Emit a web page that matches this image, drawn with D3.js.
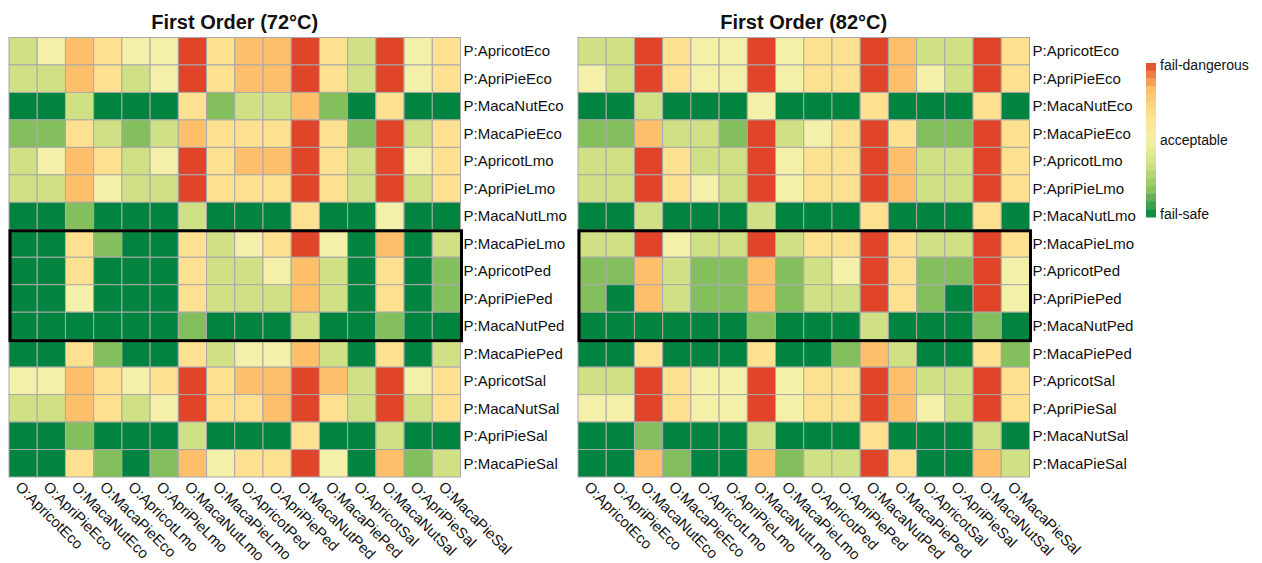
<!DOCTYPE html>
<html>
<head>
<meta charset="utf-8">
<script src="https://cdn.jsdelivr.net/npm/d3@7"></script>
<style>
  html, body { margin: 0; padding: 0; background: #fff; }
  svg { display: block; font-family: "Liberation Sans", Arial, sans-serif; }
</style>
</head>
<body>
<svg id="chart" width="1262" height="563"></svg>
<script>
// Risk level per pair: 1 = fail-safe ... 4 = acceptable ... 7 = fail-dangerous
const cols72 = ["O:ApricotEco","O:ApriPieEco","O:MacaNutEco","O:MacaPieEco","O:ApricotLmo","O:ApriPieLmo","O:MacaNutLmo","O:MacaPieLmo","O:ApricotPed","O:ApriPiePed","O:MacaNutPed","O:MacaPiePed","O:ApricotSal","O:MacaNutSal","O:ApriPieSal","O:MacaPieSal"];
const rows72 = ["P:ApricotEco","P:ApriPieEco","P:MacaNutEco","P:MacaPieEco","P:ApricotLmo","P:ApriPieLmo","P:MacaNutLmo","P:MacaPieLmo","P:ApricotPed","P:ApriPiePed","P:MacaNutPed","P:MacaPiePed","P:ApricotSal","P:MacaNutSal","P:ApriPieSal","P:MacaPieSal"];
const cols82 = ["O:ApricotEco","O:ApriPieEco","O:MacaNutEco","O:MacaPieEco","O:ApricotLmo","O:ApriPieLmo","O:MacaNutLmo","O:MacaPieLmo","O:ApricotPed","O:ApriPiePed","O:MacaNutPed","O:MacaPiePed","O:ApricotSal","O:ApriPieSal","O:MacaNutSal","O:MacaPieSal"];
const rows82 = ["P:ApricotEco","P:ApriPieEco","P:MacaNutEco","P:MacaPieEco","P:ApricotLmo","P:ApriPieLmo","P:MacaNutLmo","P:MacaPieLmo","P:ApricotPed","P:ApriPiePed","P:MacaNutPed","P:MacaPiePed","P:ApricotSal","P:ApriPieSal","P:MacaNutSal","P:MacaPieSal"];

const risk72 = [
  [3,4,6,5,4,4,7,5,6,6,7,5,3,7,4,5],
  [3,3,6,5,3,4,7,5,6,6,7,5,3,7,4,5],
  [1,1,3,1,1,1,5,2,3,3,6,2,1,5,1,1],
  [2,2,5,3,2,3,6,5,5,5,7,5,2,7,3,5],
  [3,4,6,5,3,4,7,5,6,6,7,5,3,7,4,5],
  [3,3,6,4,3,3,7,5,5,5,7,5,3,7,3,5],
  [1,1,2,1,1,1,3,1,1,1,5,1,1,4,1,1],
  [1,1,5,2,1,1,5,3,4,5,7,4,1,6,1,3],
  [1,1,5,1,1,1,5,3,3,4,6,3,1,5,1,2],
  [1,1,4,1,1,1,5,3,3,3,6,3,1,5,1,2],
  [1,1,1,1,1,1,2,1,1,1,3,1,1,2,1,1],
  [1,1,5,2,1,1,5,3,4,4,6,3,1,5,1,3],
  [4,4,6,5,4,5,7,5,6,6,7,6,3,7,4,5],
  [3,3,6,5,3,4,7,5,5,6,7,5,3,7,3,5],
  [1,1,2,1,1,1,3,1,1,1,5,1,1,3,1,1],
  [1,1,5,2,1,2,6,4,5,5,7,4,1,6,2,3]
];

const risk82 = [
  [3,3,7,5,4,4,7,4,5,5,7,6,3,3,7,5],
  [4,3,7,5,4,4,7,4,5,5,7,6,4,3,7,5],
  [1,1,3,1,1,1,4,1,1,1,5,1,1,1,5,1],
  [2,2,6,3,3,2,7,3,4,5,7,5,2,2,7,5],
  [3,3,7,5,3,3,7,4,5,5,7,6,3,3,7,5],
  [3,3,7,5,4,3,7,4,5,5,7,6,3,3,7,5],
  [1,1,3,1,1,1,3,1,1,1,5,1,1,1,5,1],
  [3,3,7,4,3,3,7,3,5,5,7,5,3,3,7,5],
  [2,2,6,3,2,2,6,2,3,4,7,5,2,2,7,4],
  [2,1,6,3,2,2,6,2,3,3,7,5,2,1,7,4],
  [1,1,1,1,1,1,2,1,1,1,3,1,1,1,2,1],
  [1,1,5,1,1,1,5,1,1,2,6,3,1,1,5,2],
  [3,3,7,5,4,4,7,4,5,5,7,6,3,3,7,5],
  [4,4,7,5,4,4,7,4,5,5,7,6,4,3,7,5],
  [1,1,2,1,1,1,3,1,1,1,5,1,1,1,3,1],
  [1,1,6,2,1,1,6,2,3,3,7,5,1,1,6,3]
];

// Rows framed as the group of interest (MacaPieLmo .. MacaNutPed)
const highlightRows = ["P:MacaPieLmo","P:MacaNutPed"];
const legendLabels = ["fail-dangerous","acceptable","fail-safe"];

const palette = ["#00843f","#84bf5e","#d0e084","#f4f0aa","#fee190","#fdbf6a","#e0452a"];
const color = d3.scaleLinear().domain([1,2,3,4,5,6,7]).range(palette).interpolate(d3.interpolateRgb);

const svg = d3.select("#chart");

function heatmap(opts) {
  const {x0, x1, y0, y1, title, rows, cols, data} = opts;
  const g = svg.append("g");
  const x = d3.scaleBand().domain(cols).range([x0, x1]);
  const y = d3.scaleBand().domain(rows).range([y0, y1]);

  const cells = [];
  data.forEach((r, i) => r.forEach((v, j) => cells.push({row: rows[i], col: cols[j], v})));

  g.selectAll("rect.cell").data(cells).join("rect")
    .attr("class", "cell")
    .attr("x", d => x(d.col)).attr("y", d => y(d.row))
    .attr("width", x.bandwidth()).attr("height", y.bandwidth())
    .attr("fill", d => color(d.v))
    .attr("stroke", "#a9a9a9").attr("stroke-width", 1);

  g.append("text")
    .attr("x", (x0 + x1) / 2).attr("y", 29)
    .attr("text-anchor", "middle")
    .attr("font-size", 20).attr("font-weight", "bold")
    .attr("fill", "#111")
    .text(title);

  // row labels on the right
  g.selectAll("text.row").data(rows).join("text")
    .attr("class", "row")
    .attr("x", x1 + 3).attr("y", d => y(d) + y.bandwidth() / 2)
    .attr("dy", "0.35em")
    .attr("font-size", 15).attr("fill", "#111")
    .text(d => d);

  // column labels rotated below
  g.selectAll("text.col").data(cols).join("text")
    .attr("class", "col")
    .attr("transform", d => `translate(${x(d) + x.bandwidth() / 2 - 5},${y1 + 7}) rotate(45)`)
    .attr("dy", "0.35em")
    .attr("font-size", 15).attr("fill", "#111")
    .text(d => d);

  // frame around the highlighted rows
  const hy0 = y(highlightRows[0]);
  const hy1 = y(highlightRows[1]) + y.bandwidth();
  g.append("rect")
    .attr("x", x0 + 1).attr("y", hy0 + 1)
    .attr("width", x1 - x0).attr("height", hy1 - hy0)
    .attr("fill", "none").attr("stroke", "#000").attr("stroke-width", 3);
}

heatmap({x0: 9, x1: 460.5, y0: 37.5, y1: 477, title: "First Order (72°C)", rows: rows72, cols: cols72, data: risk72});
heatmap({x0: 578, x1: 1029.5, y0: 37.5, y1: 477, title: "First Order (82°C)", rows: rows82, cols: cols82, data: risk82});

// stepped colour legend
const ly = d3.scaleLinear().domain([7, 1]).range([63, 217]);
const nSteps = 20;
const steps = d3.range(nSteps).map(i => 7 - (i + 0.5) * 6 / nSteps);
const stepH = (ly(1) - ly(7)) / nSteps;
const lg = svg.append("g");
lg.selectAll("rect").data(steps).join("rect")
  .attr("x", 1146).attr("width", 10)
  .attr("y", (d, i) => ly(7) + i * stepH).attr("height", stepH + 0.5)
  .attr("fill", d => color(d));
lg.selectAll("text").data([7, 4, 1]).join("text")
  .attr("x", 1160).attr("y", d => d === 7 ? 65 : d === 4 ? 140 : 214)
  .attr("dy", "0.35em")
  .attr("font-size", 14).attr("fill", "#111")
  .text((d, i) => legendLabels[i]);
</script>
</body>
</html>
